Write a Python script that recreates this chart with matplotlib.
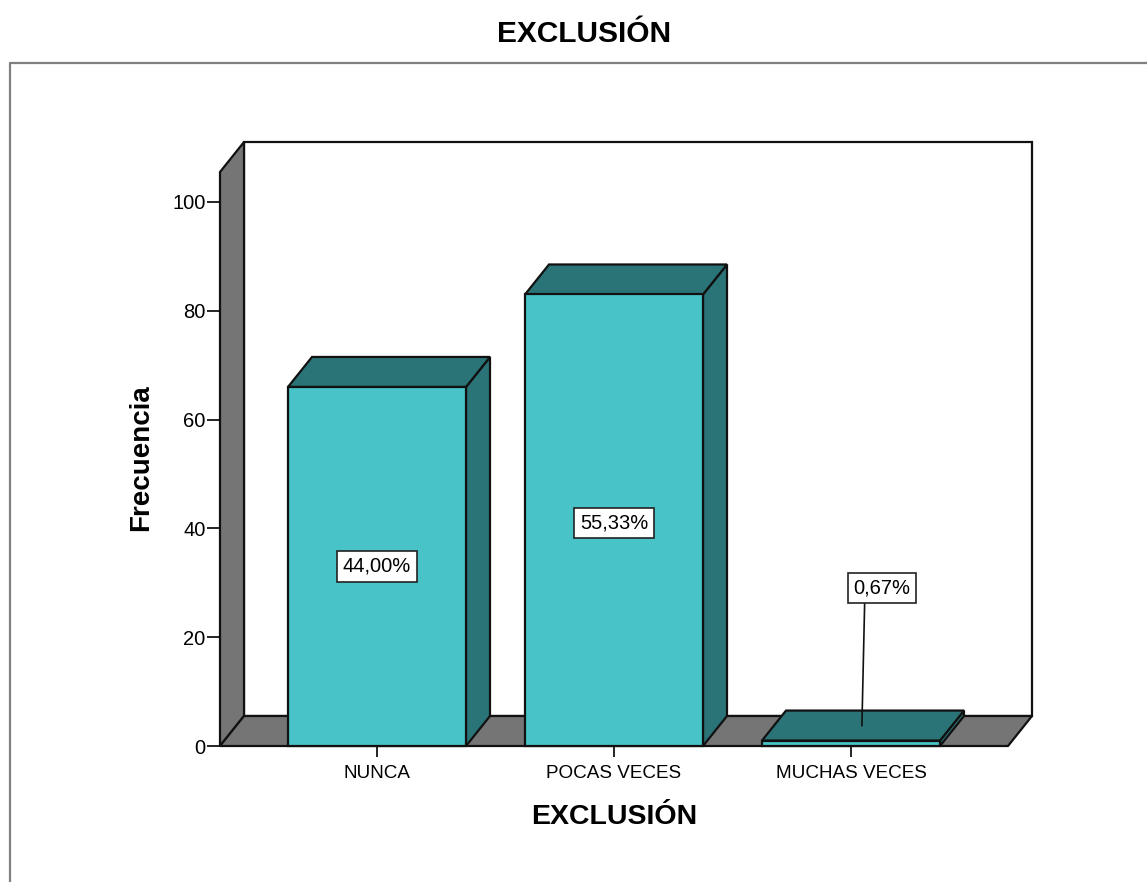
import matplotlib
matplotlib.use('Agg')
import matplotlib.pyplot as plt
from matplotlib.patches import Polygon, Rectangle

plt.rcParams['font.family'] = ['Liberation Sans', 'DejaVu Sans']

# data
categories = ['NUNCA', 'POCAS VECES', 'MUCHAS VECES']
frequencies = [66, 83, 1]
percent_labels = ['44,00%', '55,33%', '0,67%']
label_heights = [33, 41, 29]
y_ticks = [0, 20, 40, 60, 80, 100]

W, H = 1147, 882
fig = plt.figure(figsize=(W / 100, H / 100), dpi=100)

# outer frame of the output viewer
frame = fig.add_axes([0, 0, 1, 1])
frame.set_xlim(0, W)
frame.set_ylim(H, 0)
frame.axis('off')
frame.plot([10, 10, W], [H, 63, 63], color='#808080', lw=1.6)

# plot area in pixels: left 220, right 1032, floor 746, top 142
ax = fig.add_axes([220 / W, 1 - 746 / H, (1032 - 220) / W, (746 - 142) / H])
unit_x = 237.0
unit_y = 5.44
ax.set_xlim((220 - 377) / unit_x, (1032 - 377) / unit_x)
ax.set_ylim(0, (746 - 142) / unit_y)
x0, x1 = ax.get_xlim()
y0, y1 = ax.get_ylim()

# 3d depth
dx = 24 / unit_x
dy = 30 / unit_y
bar_w = 178 / unit_x

edge = {'edgecolor': '#111111', 'linewidth': 1.6, 'clip_on': False}

# walls and floor
ax.add_patch(Rectangle((x0 + dx, dy), x1 - x0 - dx, y1 - dy, facecolor='white', **edge))
ax.add_patch(Polygon([(x0, 0), (x0 + dx, dy), (x0 + dx, y1), (x0, y1 - dy)], facecolor='#757575', **edge))
ax.add_patch(Polygon([(x0, 0), (x0 + dx, dy), (x1, dy), (x1 - dx, 0)], facecolor='#757575', **edge))

# bars
for i, v in enumerate(frequencies):
    l = i - bar_w / 2
    r = i + bar_w / 2
    ax.add_patch(Polygon([(r, 0), (r + dx, dy), (r + dx, v + dy), (r, v)], facecolor='#2A7478', zorder=3, **edge))
    ax.add_patch(Polygon([(l, v), (l + dx, v + dy), (r + dx, v + dy), (r, v)], facecolor='#2A7478', zorder=3, **edge))
    ax.add_patch(Rectangle((l, 0), bar_w, v, facecolor='#48C3C8', zorder=4, **edge))

# percent labels, the small bar gets a leader line
box = dict(boxstyle='square,pad=0.28', facecolor='white', edgecolor='#222222', linewidth=1.2)
for i, (txt, h) in enumerate(zip(percent_labels, label_heights)):
    if frequencies[i] < 5:
        ax.plot([i + 0.046, i + 0.059], [frequencies[i] + dy / 2, h], color='#111111', lw=1.2, zorder=5, clip_on=False)
        ax.text(i + 0.131, h, txt, ha='center', va='center', fontsize=14.5, bbox=box, zorder=6)
    else:
        ax.text(i, h, txt, ha='center', va='center', fontsize=14.5, bbox=box, zorder=6)

# axes
for s in ax.spines.values():
    s.set_visible(False)
ax.patch.set_visible(False)
ax.set_xticks(range(len(categories)))
ax.set_xticklabels(categories, fontsize=13.6)
ax.set_yticks(y_ticks)
ax.tick_params(axis='y', length=9.4, width=1.2, labelsize=14.5, pad=1)
ax.tick_params(axis='x', length=8, width=1.2, pad=6)

frame.text(584, 34, 'EXCLUSIÓN', ha='center', va='center', fontsize=21.5, fontweight='bold')
frame.text(614, 817, 'EXCLUSIÓN', ha='center', va='center', fontsize=20.5, fontweight='bold')
frame.text(141, 458, 'Frecuencia', ha='center', va='center', rotation=90, fontsize=20, fontweight='bold')

fig.savefig('out.png', dpi=100)
